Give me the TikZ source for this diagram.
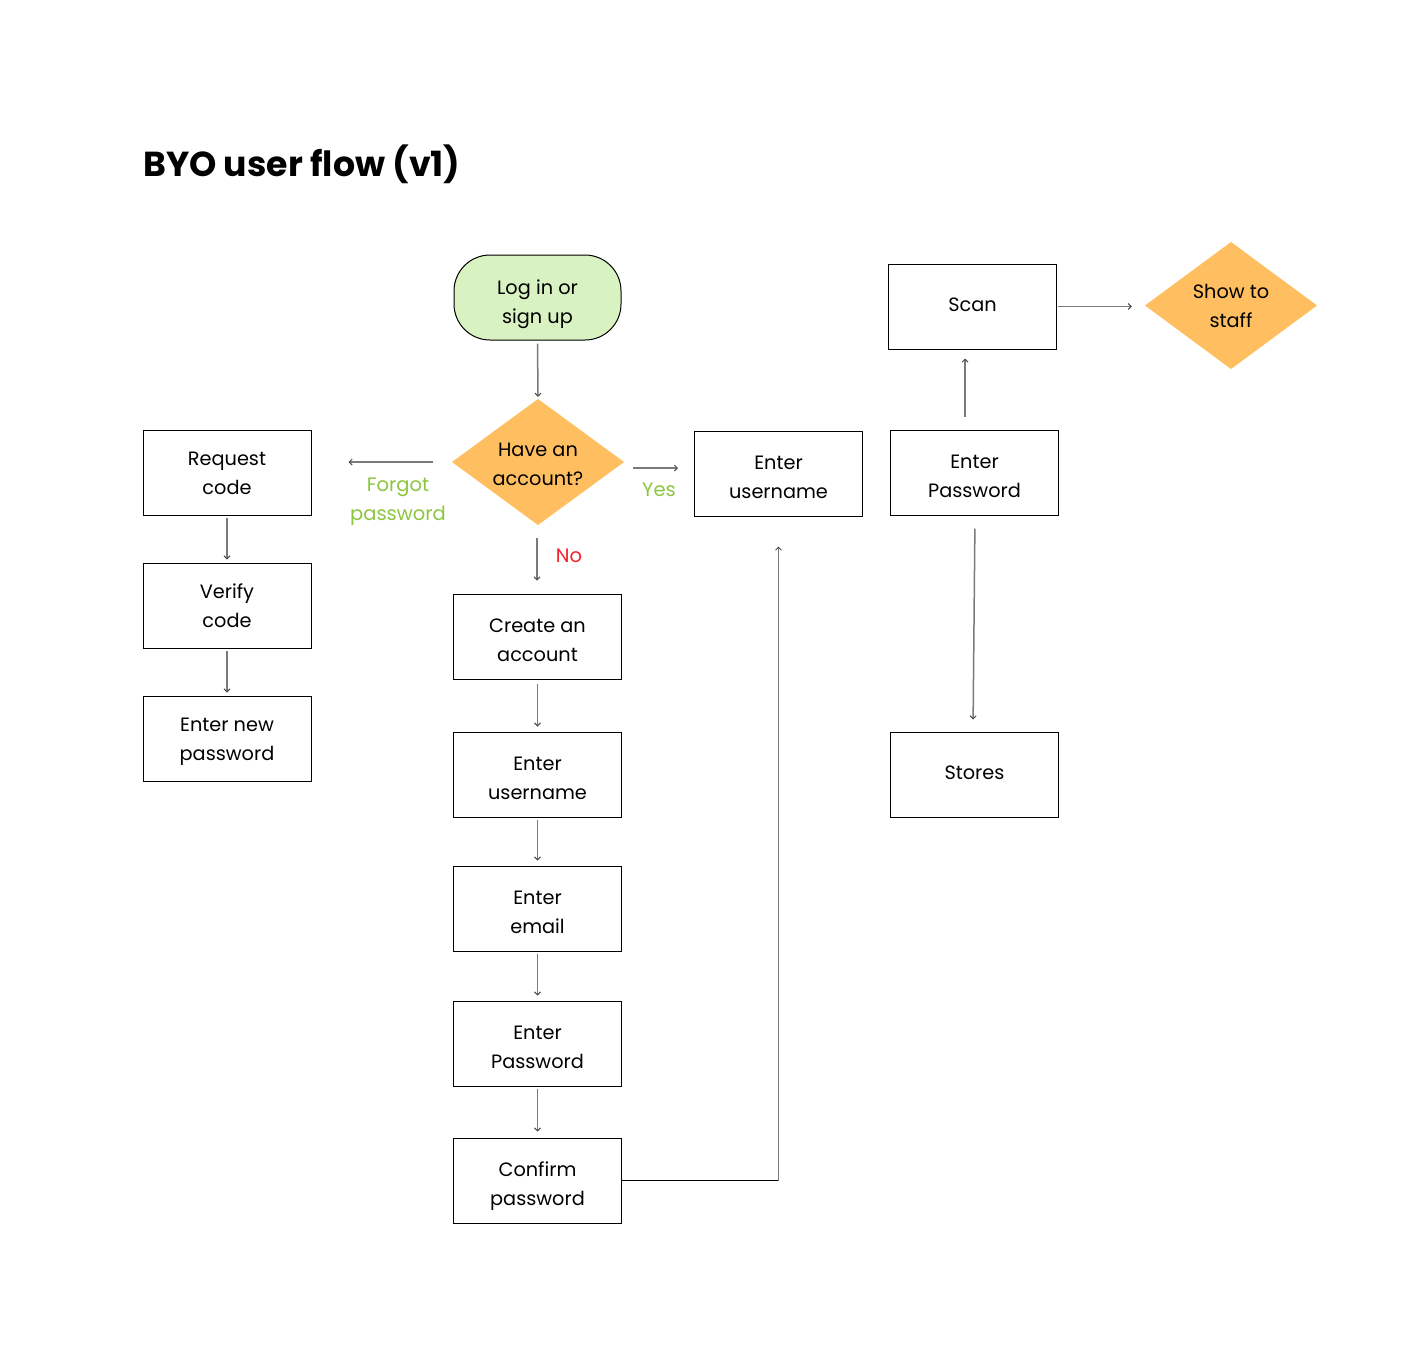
\documentclass[tikz,border=0pt]{standalone}
\usepackage{fontspec}
\setmainfont{Poppins}
\usetikzlibrary{arrows.meta}
\definecolor{startgreen}{HTML}{D9F2C2}
\definecolor{decorange}{HTML}{FFBF60}
\definecolor{lblgreen}{HTML}{8CC63F}
\definecolor{lblred}{HTML}{F5222D}
\definecolor{arrgray}{HTML}{7A7A7A}
\tikzset{
  txt/.style={align=center,font=\fontsize{19.3}{29}\selectfont},
  two/.style={text height=50pt,text depth=0pt},
  one/.style={text depth=4pt},
  box/.style={txt,draw=black,line width=1pt,minimum width=168pt,minimum height=85pt,inner sep=0pt},
  decbox/.style={txt,two,minimum width=172pt,minimum height=126pt,inner sep=0pt},
  arr/.style={draw=arrgray,line width=1.5pt,-{Straight Barb[length=3pt,width=6pt,line width=1pt,color=black!70]}},
  lbl/.style={align=center,font=\fontsize{19.5}{29}\selectfont},
}
\begin{document}
\begin{tikzpicture}[x=1pt,y=-1pt]
\useasboundingbox[fill=white] (0,0) rectangle (1418,1361);
% title
\node[anchor=base west,inner sep=0pt,font=\fontsize{34.7}{40}\selectfont\bfseries] (title) at (143,176) {BYO user flow (v1)};
% start
\node[txt,two,text height=51pt,draw=black,fill=startgreen,line width=1pt,rounded corners=36pt,minimum width=167pt,minimum height=85pt,inner sep=0pt] (login) at (537.5,297.5) {Log in or\\sign up};
% decision diamond
\fill[decorange] (452,462) -- (538,399) -- (624,462) -- (538,525) -- cycle;
\node[decbox,text height=46pt] (dia) at (538,462) {Have an\\account?};
% show to staff diamond
\fill[decorange] (1145,305.5) -- (1231,242) -- (1317,305.5) -- (1231,369) -- cycle;
\node[decbox,text height=44pt] (show) at (1231,305.5) {Show to\\staff};
% left column
\node[box,two,text height=44pt] (req) at (227,472.5) {Request\\code};
\node[box,two,text height=44pt] (ver) at (227,605.5) {Verify\\code};
\node[box,two,text height=44pt] (newpw) at (227,738.5) {Enter new\\password};
% middle column
\node[box,two] (create) at (537.5,636.5) {Create an\\account};
\node[box,two] (usr) at (537.5,774.5) {Enter\\username};
\node[box,two] (email) at (537.5,908.5) {Enter\\email};
\node[box,two] (pw) at (537.5,1043.5) {Enter\\Password};
\node[box,two] (conf) at (537.5,1180.5) {Confirm\\password};
% right part
\node[box,two] (eusr) at (778.5,473.5) {Enter\\username};
\node[box,two] (epw) at (974.5,472.5) {Enter\\Password};
\node[box,one] (scan) at (972.5,306.5) {Scan};
\node[box,one] (stores) at (974.5,774.5) {Stores};
% connectors
\draw[arr,shorten <=3pt,shorten >=2pt] (login.south) -- (dia.north);
\draw[arr,shorten <=19pt,shorten >=37pt] (dia.west) -- (dia.west -| req.east);
\draw[arr,shorten <=9pt,shorten >=16pt] ([yshift=-6pt]dia.east) -- ([yshift=-6pt]dia.east -| eusr.west);
\draw[arr,shorten <=13pt,shorten >=13pt] ([xshift=-1pt]dia.south) -- ([xshift=-1pt]dia.south |- create.north);
\node[lbl,text=lblgreen] (forgot) at (398,501.5) {Forgot\\password};
\node[lbl,text=lblgreen] (yes) at (659,490) {Yes};
\node[lbl,text=lblred] (no) at (569,555.5) {No};
\draw[arr,shorten <=2pt,shorten >=3pt] (req.south) -- (ver.north);
\draw[arr,shorten <=2pt,shorten >=3pt] (ver.south) -- (newpw.north);
\draw[arr,shorten <=4pt,shorten >=5pt] (create.south) -- (usr.north);
\draw[arr,shorten <=2pt,shorten >=5pt] (usr.south) -- (email.north);
\draw[arr,shorten <=2pt,shorten >=5pt] (email.south) -- (pw.north);
\draw[arr,shorten <=2pt,shorten >=6pt] (pw.south) -- (conf.north);
\coordinate (corner) at (conf.east -| eusr.south);
\draw[black,line width=1pt] (conf.east) -- (corner);
\draw[arr,shorten >=30pt] (corner) -- (eusr.south);
\draw[arr,shorten <=1pt,shorten >=13pt] (scan.east) -- (scan.east -| show.west);
\draw[arr,shorten <=13pt,shorten >=9pt] ([xshift=-9.5pt]epw.north) -- ([xshift=-9.5pt]epw.north |- scan.south);
\draw[arr,shorten <=13pt,shorten >=12pt] ([xshift=0.5pt]epw.south) -- ([xshift=-1.5pt]stores.north);
\end{tikzpicture}
\end{document}
